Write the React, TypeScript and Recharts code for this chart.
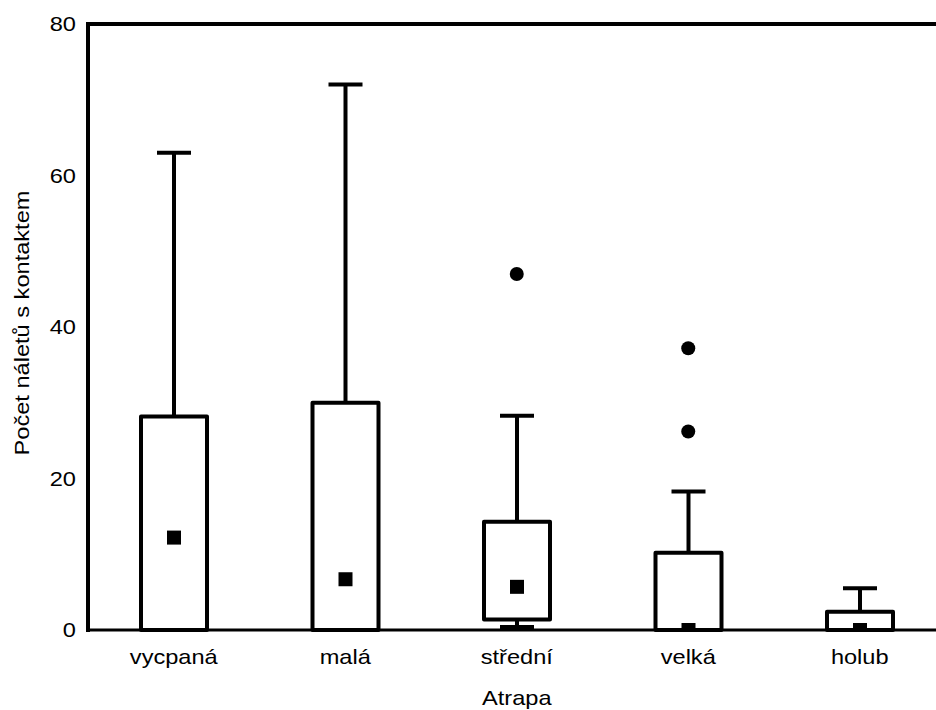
import { ComposedChart, Bar, Scatter, XAxis, YAxis, ReferenceLine } from 'recharts';

const categories = ['vycpaná', 'malá', 'střední', 'velká', 'holub'];
const whiskerLow = [0, 0, 0.4, 0, 0];
const q1 = [0, 0, 1.4, 0, 0];
const medians = [12.2, 6.7, 5.7, 0, 0];
const q3 = [28.2, 30, 14.3, 10.2, 2.4];
const whiskerHigh = [63, 72, 28.3, 18.3, 5.5];
const outliersA = [null, null, 47, 37.2, null];
const outliersB = [null, null, null, 26.2, null];
const yTicks = [0, 20, 40, 60, 80];

const data = categories.map((name, i) => ({
  name,
  low: whiskerLow[i],
  q1: q1[i],
  median: medians[i],
  q3: q3[i],
  high: whiskerHigh[i],
  outA: outliersA[i],
  outB: outliersB[i],
}));

const FONT = 'Liberation Sans, Arial, sans-serif';
const STRETCH = 1.18;

// box, whiskers and median, placed with the bar's own [low, high] geometry
const BoxShape = (props: any) => {
  const { x, y, width, height, payload } = props;
  const lo = payload.low;
  const hi = payload.high;
  const py = (v: number) => y + (height * (hi - v)) / (hi - lo);
  const cx = x + width / 2;
  const cap = 17;
  const base = py(0);
  const mTop = py(payload.median) - 7;
  const mBottom = Math.min(py(payload.median) + 7, base - 1);
  return (
    <g>
      <line x1={cx} x2={cx} y1={py(payload.q3)} y2={py(hi)} stroke="#000" strokeWidth={4} />
      <line x1={cx - cap} x2={cx + cap} y1={py(hi)} y2={py(hi)} stroke="#000" strokeWidth={4} />
      {lo < payload.q1 && (
        <g>
          <line x1={cx} x2={cx} y1={py(payload.q1)} y2={py(lo)} stroke="#000" strokeWidth={4} />
          <line x1={cx - cap} x2={cx + cap} y1={py(lo)} y2={py(lo)} stroke="#000" strokeWidth={4} />
        </g>
      )}
      <rect
        x={x}
        y={py(payload.q3)}
        width={width}
        height={py(payload.q1) - py(payload.q3)}
        fill="#fff"
        stroke="#000"
        strokeWidth={4}
        strokeLinejoin="round"
      />
      <rect x={cx - 7} y={mTop} width={14} height={Math.max(0, mBottom - mTop)} fill="#000" />
    </g>
  );
};

const outlierShape = (key: string) => (props: any) => {
  const { cx, cy, payload } = props;
  if (payload == null || payload[key] == null || !isFinite(cx) || !isFinite(cy)) return <g />;
  return <circle cx={cx} cy={cy} r={7} fill="#000" />;
};

const XTick = ({ x, y, payload }: any) => (
  <g transform={`translate(${x},${y})`}>
    <text transform={`scale(${STRETCH},1)`} y={26} textAnchor="middle" fontSize={20} fontFamily={FONT} fill="#000">
      {payload.value}
    </text>
  </g>
);

const YTick = ({ x, y, payload }: any) => (
  <g transform={`translate(${x},${y})`}>
    <text transform={`scale(${STRETCH},1)`} dy="0.355em" textAnchor="end" fontSize={20} fontFamily={FONT} fill="#000">
      {payload.value}
    </text>
  </g>
);

const XTitle = ({ viewBox }: any) => (
  <text
    transform={`translate(${viewBox.x + viewBox.width / 2},${viewBox.y + 75}) scale(${STRETCH},1)`}
    textAnchor="middle"
    fontSize={20}
    fontFamily={FONT}
    fill="#000"
  >
    Atrapa
  </text>
);

const YTitle = ({ viewBox }: any) => (
  <text
    transform={`translate(29,${viewBox.y + viewBox.height / 2 - 4}) rotate(-90) scale(${STRETCH},1)`}
    textAnchor="middle"
    fontSize={20}
    fontFamily={FONT}
    fill="#000"
  >
    Počet náletů s kontaktem
  </text>
);

export default function App() {
  return (
    <div style={{ width: 936, height: 710, overflow: 'hidden', background: '#fff' }}>
      <style>{'body{margin:0}'}</style>
      <ComposedChart width={960} height={710} data={data} margin={{ top: 24, right: 14.5, bottom: 0, left: 0 }}>
        <XAxis
          dataKey="name"
          height={80}
          tickLine={false}
          axisLine={{ stroke: '#000', strokeWidth: 3, strokeLinecap: 'square' }}
          tick={<XTick />}
          label={{ content: <XTitle /> }}
        />
        <YAxis
          width={88}
          domain={[0, 80]}
          ticks={yTicks}
          tickLine={false}
          tickMargin={6}
          axisLine={{ stroke: '#000', strokeWidth: 4, strokeLinecap: 'square' }}
          tick={<YTick />}
          label={{ content: <YTitle /> }}
        />
        <ReferenceLine y={80} stroke="#000" strokeWidth={4} strokeLinecap="square" />
        <Bar
          dataKey={(d: any) => [d.low, d.high]}
          barSize={66}
          shape={<BoxShape />}
          isAnimationActive={false}
        />
        <Scatter dataKey="outA" shape={outlierShape('outA')} isAnimationActive={false} />
        <Scatter dataKey="outB" shape={outlierShape('outB')} isAnimationActive={false} />
      </ComposedChart>
    </div>
  );
}
